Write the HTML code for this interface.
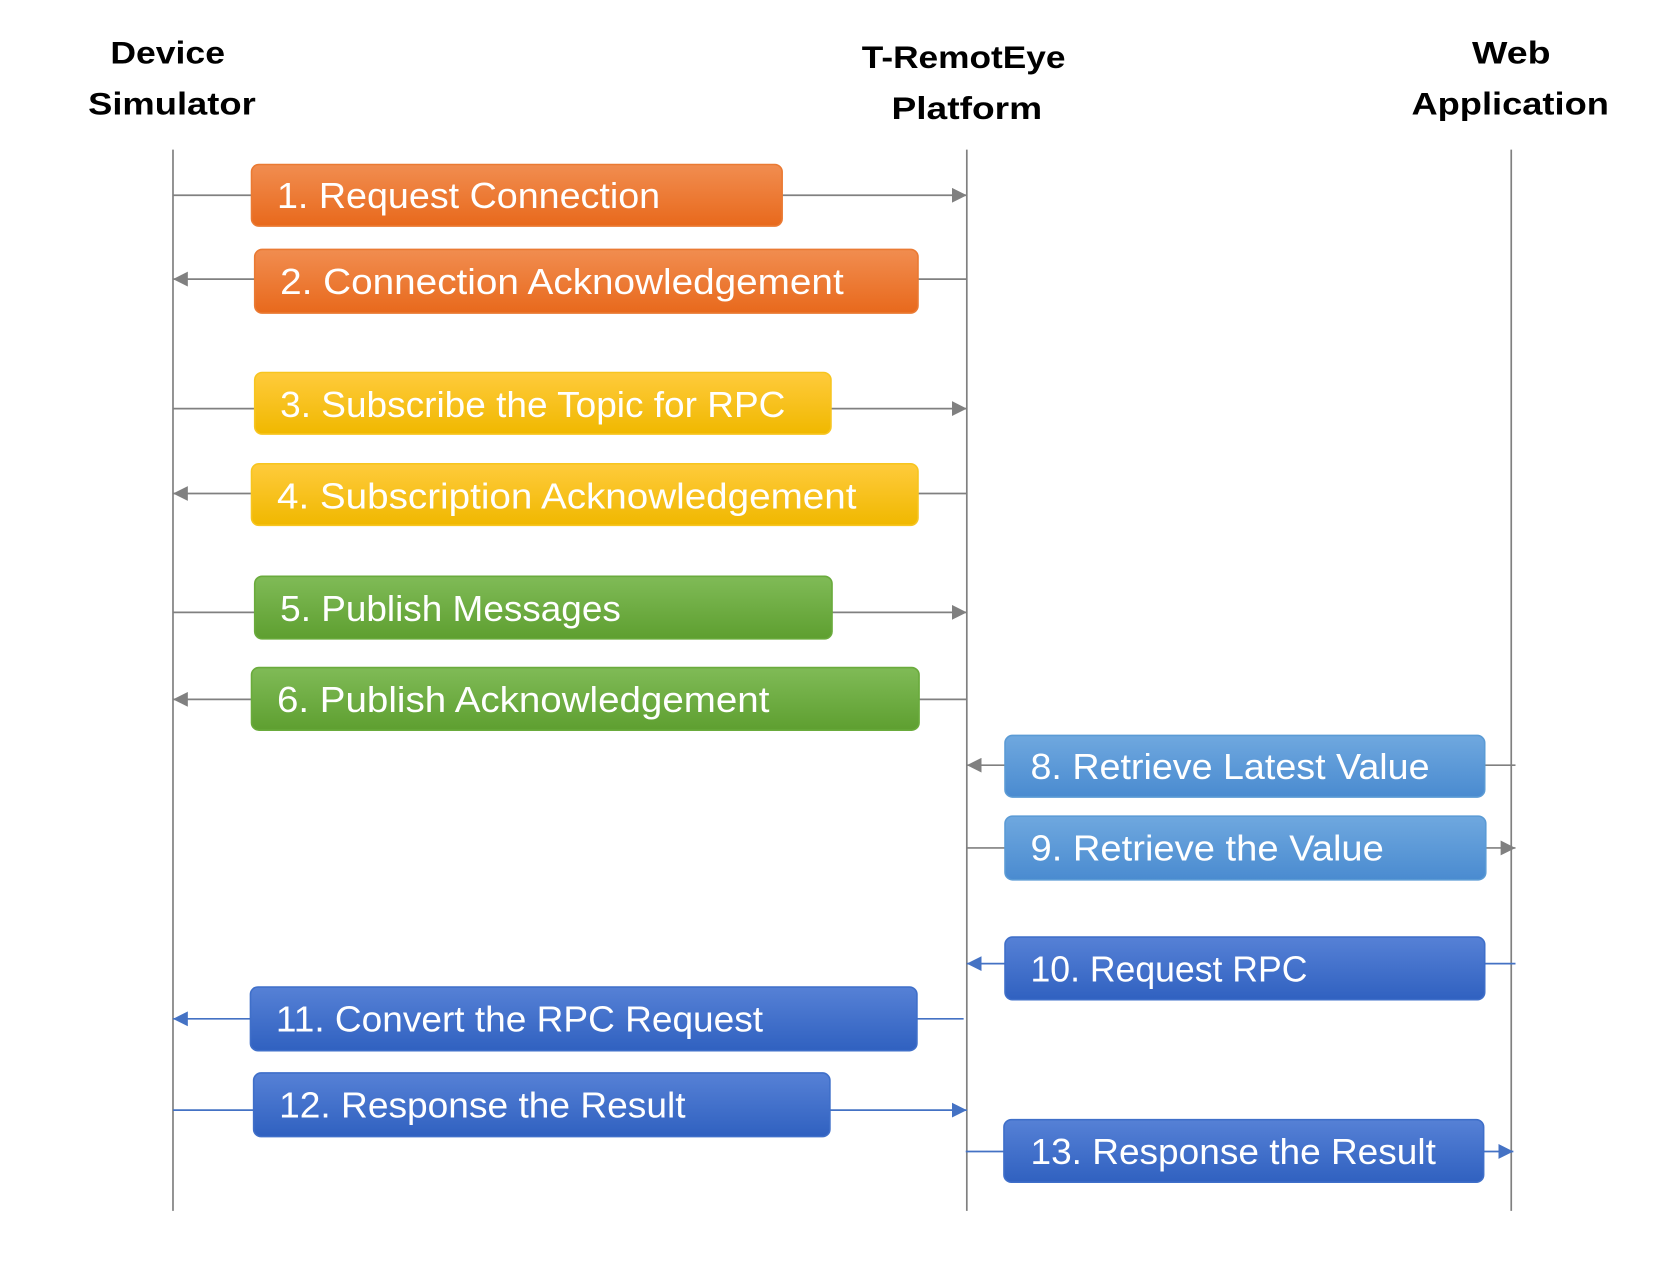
<!DOCTYPE html>
<html><head><meta charset="utf-8"><style>
html,body{margin:0;padding:0;background:#fff;}
svg{display:block;}
text{font-family:"Liberation Sans",sans-serif;}
</style></head><body>
<svg width="1663" height="1273" viewBox="0 0 1567 1199.5" preserveAspectRatio="none" xmlns="http://www.w3.org/2000/svg">
<defs>
<linearGradient id="go" x1="0" y1="0" x2="0" y2="1"><stop offset="0" stop-color="#f18d50"/><stop offset="1" stop-color="#e8691c"/></linearGradient>
<linearGradient id="gy" x1="0" y1="0" x2="0" y2="1"><stop offset="0" stop-color="#ffcb3c"/><stop offset="1" stop-color="#f0b800"/></linearGradient>
<linearGradient id="gg" x1="0" y1="0" x2="0" y2="1"><stop offset="0" stop-color="#80bb57"/><stop offset="1" stop-color="#5e9f30"/></linearGradient>
<linearGradient id="gl" x1="0" y1="0" x2="0" y2="1"><stop offset="0" stop-color="#6fa8df"/><stop offset="1" stop-color="#4a8bd0"/></linearGradient>
<linearGradient id="gd" x1="0" y1="0" x2="0" y2="1"><stop offset="0" stop-color="#5681d6"/><stop offset="1" stop-color="#3061c0"/></linearGradient>
<marker id="ag" markerWidth="14" markerHeight="14" refX="14" refY="7" orient="auto" markerUnits="userSpaceOnUse"><path d="M0,0 L14,7 L0,14 z" fill="#808080"/></marker>
<marker id="ab" markerWidth="14" markerHeight="14" refX="14" refY="7" orient="auto" markerUnits="userSpaceOnUse"><path d="M0,0 L14,7 L0,14 z" fill="#4472c4"/></marker>
</defs>
<g font-weight="bold" font-size="30" fill="#000" text-anchor="middle">
<text x="158" y="60" textLength="108" lengthAdjust="spacingAndGlyphs">Device</text><text x="162" y="108" textLength="158" lengthAdjust="spacingAndGlyphs">Simulator</text>
<text x="908" y="64" textLength="192" lengthAdjust="spacingAndGlyphs">T-RemotEye</text><text x="911" y="112" textLength="142" lengthAdjust="spacingAndGlyphs">Platform</text>
<text x="1424" y="60" textLength="74" lengthAdjust="spacingAndGlyphs">Web</text><text x="1423" y="108" textLength="186" lengthAdjust="spacingAndGlyphs">Application</text>
</g>
<g stroke="#808080" stroke-width="1.6">
<line x1="163" y1="141" x2="163" y2="1141"/><line x1="911" y1="141" x2="911" y2="1141"/><line x1="1424" y1="141" x2="1424" y2="1141"/>
</g>
<g stroke-width="1.6" fill="none">
<line x1="163" y1="184" x2="911" y2="184" stroke="#808080" marker-end="url(#ag)"/>
<line x1="911" y1="263" x2="163" y2="263" stroke="#808080" marker-end="url(#ag)"/>
<line x1="163" y1="385" x2="911" y2="385" stroke="#808080" marker-end="url(#ag)"/>
<line x1="911" y1="465" x2="163" y2="465" stroke="#808080" marker-end="url(#ag)"/>
<line x1="163" y1="577" x2="911" y2="577" stroke="#808080" marker-end="url(#ag)"/>
<line x1="911" y1="659" x2="163" y2="659" stroke="#808080" marker-end="url(#ag)"/>
<line x1="1428" y1="721" x2="911" y2="721" stroke="#808080" marker-end="url(#ag)"/>
<line x1="911" y1="799" x2="1428" y2="799" stroke="#808080" marker-end="url(#ag)"/>
<line x1="1428" y1="908" x2="911" y2="908" stroke="#4472c4" marker-end="url(#ab)"/>
<line x1="908" y1="960" x2="163" y2="960" stroke="#4472c4" marker-end="url(#ab)"/>
<line x1="163" y1="1046" x2="911" y2="1046" stroke="#4472c4" marker-end="url(#ab)"/>
<line x1="910" y1="1085" x2="1426" y2="1085" stroke="#4472c4" marker-end="url(#ab)"/>
</g>
<g stroke-width="1.5">
<rect x="237" y="155" width="500" height="58" rx="7" fill="url(#go)" stroke="#ea7a33"/>
<rect x="240" y="235" width="625" height="60" rx="7" fill="url(#go)" stroke="#ea7a33"/>
<rect x="240" y="351" width="543" height="58" rx="7" fill="url(#gy)" stroke="#f7c520"/>
<rect x="237" y="437" width="628" height="58" rx="7" fill="url(#gy)" stroke="#f7c520"/>
<rect x="240" y="543" width="544" height="59" rx="7" fill="url(#gg)" stroke="#6aab3c"/>
<rect x="237" y="629" width="629" height="59" rx="7" fill="url(#gg)" stroke="#6aab3c"/>
<rect x="947" y="693" width="452" height="58" rx="7" fill="url(#gl)" stroke="#5b9bd5"/>
<rect x="947" y="769" width="453" height="60" rx="7" fill="url(#gl)" stroke="#5b9bd5"/>
<rect x="947" y="883" width="452" height="59" rx="7" fill="url(#gd)" stroke="#3f6fc9"/>
<rect x="236" y="930" width="628" height="60" rx="7" fill="url(#gd)" stroke="#3f6fc9"/>
<rect x="239" y="1011" width="543" height="60" rx="7" fill="url(#gd)" stroke="#3f6fc9"/>
<rect x="946" y="1055" width="452" height="59" rx="7" fill="url(#gd)" stroke="#3f6fc9"/>
</g>
<g fill="#fff" font-size="34">
<text x="261" y="196" textLength="361" lengthAdjust="spacingAndGlyphs">1. Request Connection</text>
<text x="264" y="277" textLength="531" lengthAdjust="spacingAndGlyphs">2. Connection Acknowledgement</text>
<text x="264" y="393" textLength="476" lengthAdjust="spacingAndGlyphs">3. Subscribe the Topic for RPC</text>
<text x="261" y="479" textLength="546" lengthAdjust="spacingAndGlyphs">4. Subscription Acknowledgement</text>
<text x="264" y="585" textLength="321" lengthAdjust="spacingAndGlyphs">5. Publish Messages</text>
<text x="261" y="671" textLength="464" lengthAdjust="spacingAndGlyphs">6. Publish Acknowledgement</text>
<text x="971" y="734" textLength="376" lengthAdjust="spacingAndGlyphs">8. Retrieve Latest Value</text>
<text x="971" y="811" textLength="333" lengthAdjust="spacingAndGlyphs">9. Retrieve the Value</text>
<text x="971" y="925" textLength="261" lengthAdjust="spacingAndGlyphs">10. Request RPC</text>
<text x="260" y="972" textLength="459" lengthAdjust="spacingAndGlyphs">11. Convert the RPC Request</text>
<text x="263" y="1053" textLength="383" lengthAdjust="spacingAndGlyphs">12. Response the Result</text>
<text x="971" y="1097" textLength="382" lengthAdjust="spacingAndGlyphs">13. Response the Result</text>
</g>
</svg>
</body></html>
